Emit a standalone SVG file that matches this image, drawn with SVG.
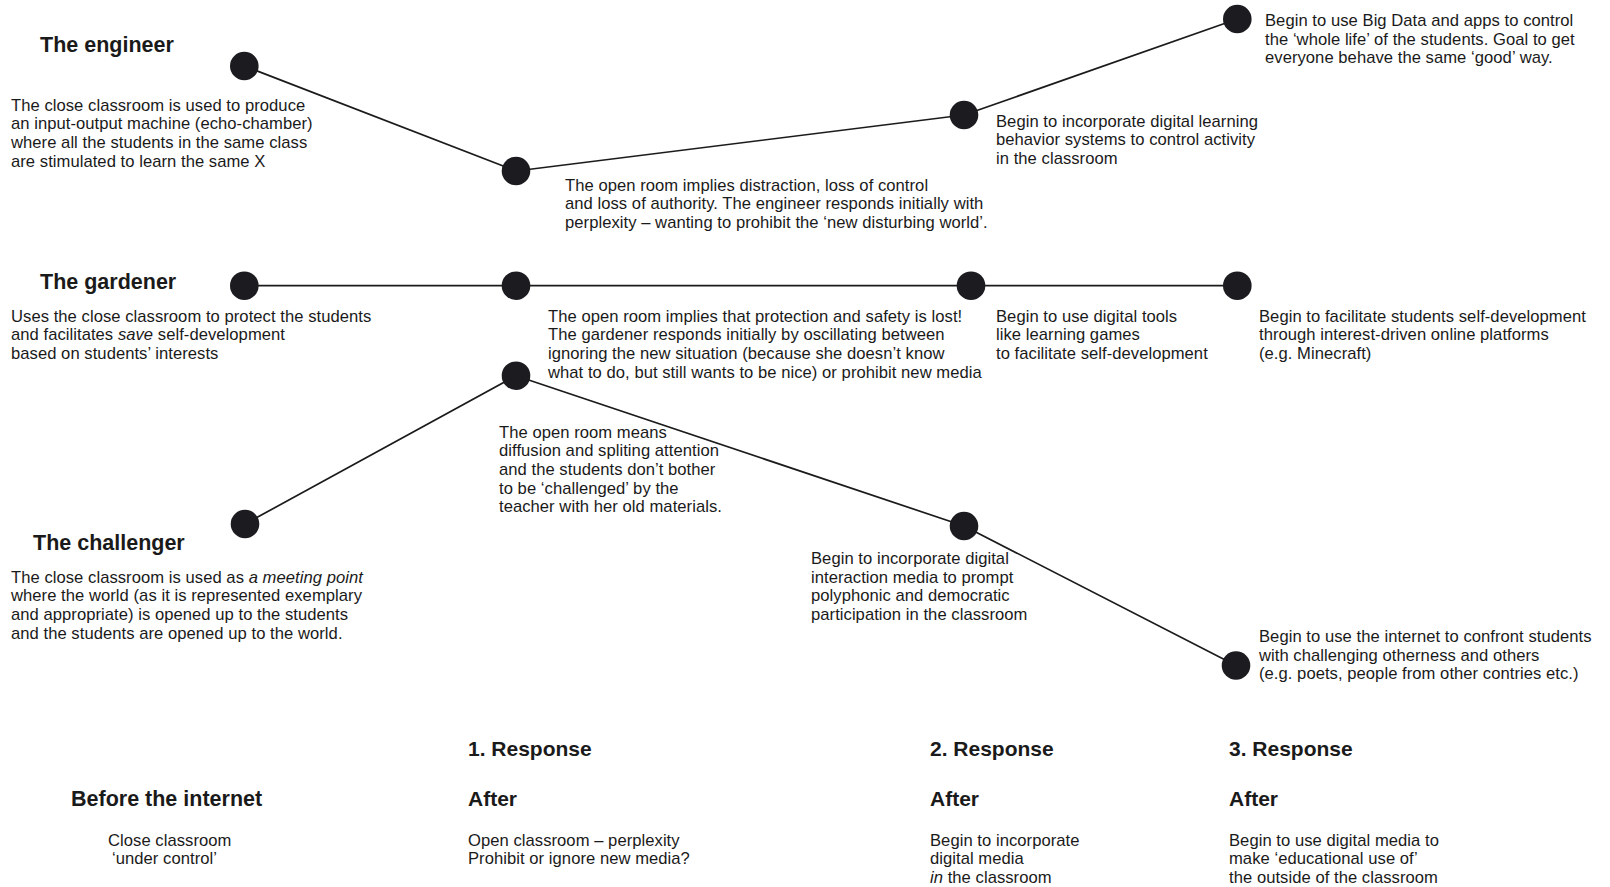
<svg xmlns="http://www.w3.org/2000/svg" width="1610" height="887" viewBox="0 0 1610 887">
<style>
  text { font-family: "Liberation Sans", Arial, Helvetica, sans-serif; fill: #1a1a1a; }
  .t { font-size: 16.6px; letter-spacing: 0.05px; }
  .h { font-size: 21.5px; font-weight: bold; }
  .r { font-size: 21px; font-weight: bold; }
  .dot { fill: #1b1b20; }
  .link { fill: none; stroke: #1b1b1b; stroke-width: 1.7; stroke-linejoin: round; }
  .it { font-style: italic; }
</style>
<rect width="1610" height="887" fill="#ffffff"/>

<g id="connectors">
  <polyline class="link" points="244.3,66 516,171 964,115 1237.3,19"/>
  <polyline class="link" points="244.3,285.7 516,285.7 971,285.7 1237.3,285.7"/>
  <polyline class="link" points="245,524 516,375.7 964,526 1236,665.5"/>
</g>

<g id="title-engineer"><text class="h" x="40" y="52">The engineer</text></g>
<g id="title-gardener"><text class="h" x="40" y="289">The gardener</text></g>
<g id="title-challenger"><text class="h" x="33" y="549.5">The challenger</text></g>

<g id="engineer-1">
  <circle class="dot" cx="244.3" cy="66" r="14.3"/>
  <text class="t" x="11" y="110.7">
    <tspan x="11" dy="0">The close classroom is used to produce</tspan>
    <tspan x="11" dy="18.6">an input-output machine (echo-chamber)</tspan>
    <tspan x="11" dy="18.6">where all the students in the same class</tspan>
    <tspan x="11" dy="18.6">are stimulated to learn the same X</tspan>
  </text>
</g>
<g id="engineer-2">
  <circle class="dot" cx="516" cy="171" r="14.3"/>
  <text class="t" x="565" y="190.5">
    <tspan x="565" dy="0">The open room implies distraction, loss of control</tspan>
    <tspan x="565" dy="18.6">and loss of authority. The engineer responds initially with</tspan>
    <tspan x="565" dy="18.6">perplexity – wanting to prohibit the ‘new disturbing world’.</tspan>
  </text>
</g>
<g id="engineer-3">
  <circle class="dot" cx="964" cy="115" r="14.3"/>
  <text class="t" x="996" y="126.5">
    <tspan x="996" dy="0">Begin to incorporate digital learning</tspan>
    <tspan x="996" dy="18.6">behavior systems to control activity</tspan>
    <tspan x="996" dy="18.6">in the classroom</tspan>
  </text>
</g>
<g id="engineer-4">
  <circle class="dot" cx="1237.3" cy="19" r="14.3"/>
  <text class="t" x="1265" y="26">
    <tspan x="1265" dy="0">Begin to use Big Data and apps to control</tspan>
    <tspan x="1265" dy="18.6">the ‘whole life’ of the students. Goal to get</tspan>
    <tspan x="1265" dy="18.6">everyone behave the same ‘good’ way.</tspan>
  </text>
</g>

<g id="gardener-1">
  <circle class="dot" cx="244.3" cy="285.7" r="14.3"/>
  <text class="t" x="11" y="321.7">
    <tspan x="11" dy="0">Uses the close classroom to protect the students</tspan>
    <tspan x="11" dy="18.6">and facilitates <tspan class="it">save</tspan> self-development</tspan>
    <tspan x="11" dy="18.6">based on students’ interests</tspan>
  </text>
</g>
<g id="gardener-2">
  <circle class="dot" cx="516" cy="285.7" r="14.3"/>
  <text class="t" x="548" y="321.7">
    <tspan x="548" dy="0">The open room implies that protection and safety is lost!</tspan>
    <tspan x="548" dy="18.6">The gardener responds initially by oscillating between</tspan>
    <tspan x="548" dy="18.6">ignoring the new situation (because she doesn’t know</tspan>
    <tspan x="548" dy="18.6">what to do, but still wants to be nice) or prohibit new media</tspan>
  </text>
</g>
<g id="gardener-3">
  <circle class="dot" cx="971" cy="285.7" r="14.3"/>
  <text class="t" x="996" y="321.7">
    <tspan x="996" dy="0">Begin to use digital tools</tspan>
    <tspan x="996" dy="18.6">like learning games</tspan>
    <tspan x="996" dy="18.6">to facilitate self-development</tspan>
  </text>
</g>
<g id="gardener-4">
  <circle class="dot" cx="1237.3" cy="285.7" r="14.3"/>
  <text class="t" x="1259" y="321.7">
    <tspan x="1259" dy="0">Begin to facilitate students self-development</tspan>
    <tspan x="1259" dy="18.6">through interest-driven online platforms</tspan>
    <tspan x="1259" dy="18.6">(e.g. Minecraft)</tspan>
  </text>
</g>

<g id="challenger-1">
  <circle class="dot" cx="245" cy="524" r="14.3"/>
  <text class="t" x="11" y="582.8">
    <tspan x="11" dy="0">The close classroom is used as <tspan class="it">a meeting point</tspan></tspan>
    <tspan x="11" dy="18.6">where the world (as it is represented exemplary</tspan>
    <tspan x="11" dy="18.6">and appropriate) is opened up to the students</tspan>
    <tspan x="11" dy="18.6">and the students are opened up to the world.</tspan>
  </text>
</g>
<g id="challenger-2">
  <circle class="dot" cx="516" cy="375.7" r="14.3"/>
  <text class="t" x="499" y="437.7">
    <tspan x="499" dy="0">The open room means</tspan>
    <tspan x="499" dy="18.6">diffusion and spliting attention</tspan>
    <tspan x="499" dy="18.6">and the students don’t bother</tspan>
    <tspan x="499" dy="18.6">to be ‘challenged’ by the</tspan>
    <tspan x="499" dy="18.6">teacher with her old materials.</tspan>
  </text>
</g>
<g id="challenger-3">
  <circle class="dot" cx="964" cy="526" r="14.3"/>
  <text class="t" x="811" y="564.2">
    <tspan x="811" dy="0">Begin to incorporate digital</tspan>
    <tspan x="811" dy="18.6">interaction media to prompt</tspan>
    <tspan x="811" dy="18.6">polyphonic and democratic</tspan>
    <tspan x="811" dy="18.6">participation in the classroom</tspan>
  </text>
</g>
<g id="challenger-4">
  <circle class="dot" cx="1236" cy="665.5" r="14.3"/>
  <text class="t" x="1259" y="642.2">
    <tspan x="1259" dy="0">Begin to use the internet to confront students</tspan>
    <tspan x="1259" dy="18.6">with challenging otherness and others</tspan>
    <tspan x="1259" dy="18.6">(e.g. poets, people from other contries etc.)</tspan>
  </text>
</g>

<g id="column-before">
  <text class="h" x="71" y="805.7">Before the internet</text>
  <text class="t" x="108" y="845.7">Close classroom</text>
  <text class="t" x="112" y="864.3">‘under control’</text>
</g>
<g id="column-response-1">
  <text class="r" x="468" y="756">1. Response</text>
  <text class="r" x="468" y="805.7">After</text>
  <text class="t" x="468" y="845.7">
    <tspan x="468" dy="0">Open classroom – perplexity</tspan>
    <tspan x="468" dy="18.6">Prohibit or ignore new media?</tspan>
  </text>
</g>
<g id="column-response-2">
  <text class="r" x="930" y="756">2. Response</text>
  <text class="r" x="930" y="805.7">After</text>
  <text class="t" x="930" y="845.7">
    <tspan x="930" dy="0">Begin to incorporate</tspan>
    <tspan x="930" dy="18.6">digital media</tspan>
    <tspan x="930" dy="18.6"><tspan class="it">in</tspan> the classroom</tspan>
  </text>
</g>
<g id="column-response-3">
  <text class="r" x="1229" y="756">3. Response</text>
  <text class="r" x="1229" y="805.7">After</text>
  <text class="t" x="1229" y="845.7">
    <tspan x="1229" dy="0">Begin to use digital media to</tspan>
    <tspan x="1229" dy="18.6">make ‘educational use of’</tspan>
    <tspan x="1229" dy="18.6">the outside of the classroom</tspan>
  </text>
</g>
</svg>
